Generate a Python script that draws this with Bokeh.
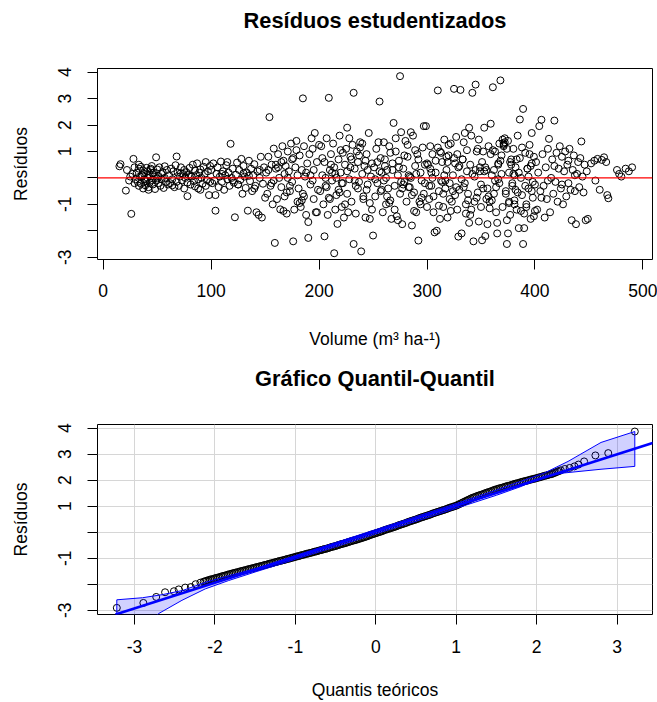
from bokeh.plotting import figure
from bokeh.layouts import column
from bokeh.models import Range1d, FixedTicker, Span, Slope, Title
from bokeh.embed import file_html
from bokeh.resources import INLINE

# ---------------- Resíduos estudentizados (painel superior) ----------------
volume = [
    15, 16, 21, 24, 26, 28, 27, 29, 25, 22, 30, 29,
    31, 32, 33, 33, 34, 35, 35, 36, 37, 37, 38, 38, 39, 40, 40, 41, 41, 42, 43, 43,
    44, 45, 45, 46, 47, 47, 48, 49, 49, 50, 51, 51, 52, 53, 54, 54, 55, 56, 57, 57,
    58, 59, 60, 36, 42, 46, 39, 44, 50, 33,
    61, 62, 63, 64, 65, 66, 67, 68, 68, 69, 70, 71, 72, 73, 74, 75, 75, 76, 77, 78,
    78, 79, 80, 81, 82, 83, 84, 85, 85, 86, 87, 88, 89, 90, 90, 91, 92, 93, 94, 95,
    95, 96, 97, 98, 99, 99, 64, 72, 81, 88,
    100, 101, 102, 103, 104, 105, 106, 107, 108, 109, 110, 111, 112, 113, 114, 115,
    116, 117, 118, 119, 120, 121, 122, 123, 124, 125, 126, 127, 128, 129, 130, 131,
    132, 133, 134, 135, 136, 137, 138, 139, 140, 141, 142, 143, 144, 145, 146, 147,
    148, 149, 150, 110, 115, 125, 135, 140, 145, 104, 120, 130,
    151, 152, 153, 154, 155, 156, 157, 158, 158, 159, 160, 161, 162, 163, 164, 165,
    165, 166, 167, 168, 168, 169, 170, 171, 172, 173, 174, 175, 175, 176, 177, 178,
    179, 180, 180, 181, 182, 183, 184, 185, 185, 186, 187, 188, 189, 190, 190, 191,
    192, 193, 194, 195, 195, 196, 197, 198, 199, 200, 156, 162, 170, 176, 182, 188,
    194, 153, 167, 173, 179, 186, 192, 198, 160, 171, 184,
    201, 202, 203, 204, 205, 205, 206, 207, 208, 209, 210, 210, 211, 212, 213, 214,
    214, 215, 216, 217, 218, 218, 219, 220, 221, 222, 222, 223, 224, 225, 226, 226,
    227, 228, 228, 229, 230, 231, 232, 232, 233, 234, 235, 236, 236, 237, 238, 239,
    240, 240, 241, 242, 243, 244, 245, 246, 247, 248, 249, 250, 203, 207, 212, 216,
    220, 224, 229, 233, 237, 241, 245, 249, 206, 211, 219, 226, 234, 243, 247, 215,
    221, 230, 238, 244, 209,
    251, 252, 253, 254, 255, 256, 257, 258, 259, 260, 260, 261, 262, 263, 264, 265,
    266, 267, 268, 269, 270, 271, 272, 273, 274, 275, 275, 276, 277, 278, 279, 280,
    281, 282, 283, 284, 285, 286, 287, 288, 289, 290, 291, 292, 293, 294, 295, 296,
    297, 298, 299, 300, 254, 258, 262, 266, 270, 274, 278, 282, 286, 290, 294, 298,
    252, 257, 263, 268, 273, 279, 284, 289, 295, 300, 256, 265, 271, 277, 283, 288,
    292, 297, 261, 276, 285,
    301, 302, 303, 304, 305, 306, 307, 308, 309, 310, 311, 312, 313, 314, 315, 316,
    317, 318, 319, 320, 321, 322, 323, 324, 325, 326, 327, 328, 329, 330, 331, 332,
    333, 334, 335, 336, 337, 338, 339, 340, 341, 342, 343, 344, 345, 346, 347, 348,
    349, 350, 351, 303, 306, 310, 314, 318, 322, 326, 330, 334, 338, 342, 346, 350,
    302, 308, 312, 316, 320, 324, 328, 332, 336, 340, 344, 348, 305, 315, 325, 335,
    345, 311, 319, 327, 337, 347, 304, 313, 321, 329, 339, 349, 317, 333, 341,
    351, 352, 353, 354, 355, 356, 357, 358, 359, 360, 361, 362, 363, 364, 365, 365,
    366, 367, 368, 369, 370, 371, 372, 373, 374, 375, 375, 376, 377, 378, 379, 380,
    381, 382, 383, 384, 385, 386, 387, 388, 389, 389, 390, 391, 392, 393, 394, 395,
    396, 397, 398, 399, 400, 353, 357, 361, 364, 368, 372, 376, 380, 384, 388, 392,
    396, 400, 355, 359, 363, 367, 371, 374, 378, 382, 386, 390, 394, 398, 352, 358,
    362, 366, 370, 373, 377, 381, 385, 391, 395, 399, 354, 360, 369, 374, 379, 383,
    387, 393, 397, 371, 356, 366, 376, 381, 397,
    401, 402, 403, 404, 405, 406, 407, 408, 409, 410, 411, 412, 413, 414, 415, 416,
    417, 418, 419, 420, 421, 422, 423, 424, 425, 426, 427, 428, 429, 430, 431, 432,
    433, 434, 435, 436, 437, 438, 439, 440, 441, 442, 443, 444, 445, 446, 447, 448,
    449, 412, 418, 425, 431, 437, 406,
    452, 455, 458, 460, 462, 464, 466, 467, 468, 476, 478, 480, 484, 487, 490, 456,
]

residuo = [
    0.44, 0.52, -0.48, -0.1, -1.36, 0.72, 0.15, -0.2, 0.05, 0.3, -0.05, 0.4,
    0.2, -0.15, 0.35, -0.3, 0.05, 0.42, -0.22, 0.1, -0.4, 0.28,
    -0.05, 0.15, -0.28, 0.38, -0.12, 0.0, 0.25, -0.35, 0.12, -0.18,
    0.3, -0.08, 0.45, -0.25, 0.05, 0.2, -0.42, 0.78, -0.1, 0.32,
    -0.2, 0.08, 0.4, -0.3, 0.15, -0.05, 0.22, -0.38, 0.44, 0.0,
    -0.15, 0.3, -0.25, 0.1, -0.45, 0.18, -0.12, 0.35, -0.02, 0.5,
    0.1, -0.2, 0.35, -0.05, 0.25, -0.35, 0.48, 0.81, -0.15, 0.2,
    -0.3, 0.05, 0.4, -0.1, 0.15, -0.4, 0.3, 0.0, 0.22, -0.69,
    -0.18, 0.12, 0.38, -0.25, 0.05, 0.5, -0.12, 0.28, -0.32, 0.1,
    0.55, -0.05, 0.2, -0.45, 0.32, 0.0, -0.22, 0.42, 0.15, -0.3,
    0.6, -0.08, 0.25, -0.65, -0.15, 0.45, -0.28, 0.18, 0.08, -0.4,
    0.3, -0.2, 0.55, -0.1, -1.24, 0.15, 0.4, -0.35, 0.05, 0.62,
    -0.15, 0.25, -0.45, 0.1, 0.48, -0.05, 0.2, -0.3, 1.29, 0.0,
    0.35, -0.18, -1.49, 0.12, 0.58, -0.25, 0.3, -0.08, 0.72, -0.6,
    0.45, 0.05, -0.38, 0.2, -1.24, 0.65, -0.12, 0.35, -0.5, 0.1,
    0.52, -0.3, -1.3, 0.25, -1.4, 0.0, 0.8, -1.5, -0.22, 0.4,
    -0.75, 0.15, 0.6, -0.25, 0.08, -0.4, 0.3, -0.65, -0.1, 0.18,
    0.2, -0.6, 0.8, 2.30, -0.3, 0.5, -1.0, 1.11, -0.1, -2.46,
    0.35, -0.8, 0.9, 0.0, -1.19, 0.6, -0.35, 1.2, -1.25, 0.15,
    -0.7, 0.45, -1.35, 1.0, 0.25, -0.5, 1.3, -0.15, 0.7, -2.40,
    -1.2, 0.4, 1.4, -0.9, 0.1, -0.4, 0.85, -1.1, 0.3, 3.01,
    -0.6, 1.2, 0.05, -1.4, 0.55, -2.27, -1.67, 0.9, -0.25, 1.5,
    1.1, -0.8, 0.3, 1.7, -1.3, 0.6, -0.45, 1.25, -0.2, 0.4,
    -0.55, 0.75, -0.95, 0.2, -0.1, 0.3, 0.65, -0.3, 1.05, -0.7,
    0.1, -1.3, 0.5, 0.0, -0.85,
    -0.5, 1.2, 0.1, -1.0, -2.21, 0.6, -0.3, 1.5, -1.4, 3.03,
    0.3, -0.8, 0.9, -0.1, 1.3, -2.85, 0.4, -1.2, 0.0, -1.74,
    0.7, -0.45, 1.6, 0.2, -1.1, 0.95, -0.2, -1.5, 0.5, 1.1,
    -0.6, 0.25, -1.3, 1.5, -0.05, 0.8, -0.9, 1.25, 3.22, -2.5,
    0.35, -1.35, 1.0, -0.4, 0.6, -0.15, 1.35, -2.78, 0.15, 1.3,
    -0.7, 0.45, -1.5, 0.9, -0.25, 1.7, -1.55, 0.05, 0.55, -2.18,
    0.75, -0.35, 0.2, -0.65, 1.05, -1.0, 0.4, -0.1, 0.85, -0.8,
    0.3, -1.2, 0.0, 0.5, -0.55, 1.9, -0.3, 0.65, -0.95, 0.15,
    -0.2, 0.7, 1.15, -0.45, -0.75,
    0.4, -0.7, 1.1, -0.2, 1.35, 2.89, -0.5, 0.2, -1.3, 1.35,
    -0.1, 0.7, -1.0, 0.3, -0.4, 1.2, -0.85, -1.55, 0.55, 2.08,
    -0.3, 1.0, -1.45, 0.1, 0.65, 3.85, -0.6, 1.73, -1.75, 0.35,
    -0.15, 1.4, -0.9, 0.8, -0.35, 0.05, 1.73, -1.8, 1.6, -0.55,
    0.45, -1.3, 0.9, -2.37, -0.9, 0.2, -0.75, 1.15, 1.96, -0.2,
    1.96, -1.1, 0.6, -0.45, 0.0, 0.95, -1.2, 0.4, -0.25, 1.25,
    -0.65, 0.15, -1.0, 0.5, -0.05, 0.75, -0.7, 0.3, -1.6, 0.85,
    -0.35, 1.05, -0.1, 0.55, 0.25, -0.95, 1.5, -0.4, 0.1, -1.25,
    0.7, -0.6, 0.45, -0.15, 0.0,
    0.5, -0.8, 1.2, -0.3, 0.9, -1.3, -2.06, 0.2, -2.0, 3.31,
    -0.5, 1.0, -0.1, 0.6, -1.1, 1.45, -0.4, 0.3, -1.5, 0.85,
    -0.2, 1.3, -0.9, 0.1, 3.37, -0.65, 1.55, -1.2, -2.22, 0.45,
    3.33, -2.1, 0.7, -0.35, 1.7, -1.0, 0.25, -0.6, 1.9, -1.4,
    1.6, 3.22, -2.4, 0.05, 3.53, -0.75, 1.1, -1.65, 0.4, -0.25,
    -2.36, 0.35, -0.7, 1.15, -0.15, 0.8, -1.25, 0.55, -0.45, 1.35,
    -0.85, 0.15, 1.0, -1.1, -0.3, 0.65, -1.55, 0.1, 1.25, -0.5,
    0.9, -0.05, -1.35, 0.5, -0.9, 1.45, 0.0, -0.6, 0.75, -0.2,
    0.3, -1.05, 0.6, -0.35, 1.05, -0.55, 0.2, 0.95, -0.8, 0.4,
    -1.7, 0.25, -0.1, 0.7, -1.2,
    0.6, -0.4, 1.9, -2.2, 0.3, -1.75, 1.2, -0.9, 2.05, 0.1,
    3.43, -0.6, 1.0, -1.3, -1.7, -2.1, 0.5, -0.2, 3.69, 0.85,
    -1.1, 1.3, 1.5, -0.5, -2.5, -2.1, 1.4, 0.2, -1.4, 0.7,
    -0.3, 1.1, -0.85, 0.4, -1.2, 1.6, -1.9, 2.21, 0.0, -0.65,
    2.61, -2.5, -1.9, 0.95, -1.0, 0.35, -0.4, 1.25, -1.55, 0.55,
    -0.15, 0.8, -1.25, 0.25, -0.7, 1.05, -0.35, 0.65, 1.35, -0.95,
    0.15, -0.55, 1.15, -1.1, 0.45, -0.25, -0.8, 0.9, -0.1, 1.3,
    1.2, -1.6, 0.5, -0.45, 0.75, -1.35, 0.05, -0.75, 1.0, -1.15,
    0.3, -0.05, 1.45, -0.6, 0.6, -1.0, 0.2, -0.3, 0.9, -1.45,
    0.4, -0.85, 0.15, 1.1, -0.2, 0.7, -1.25, 0.35, -0.5, 1.25,
    -0.4, 0.55, -0.9, 0.1, 1.7,
    0.6, -1.2, 0.2, 1.96, -0.5, 2.2, 0.9, -0.3, -1.5, 0.4,
    -0.8, 1.1, 1.48, -1.3, 0.0, 0.7, -0.6, 2.17, -0.15, 0.95,
    -0.9, 0.35, 1.2, -0.4, 0.8, -1.0, 0.25, 1.0, -0.7, 0.5,
    -0.2, 1.1, -0.45, -1.6, 0.3, 0.85, -0.5, -1.75, 0.15, 0.6,
    -0.35, 0.75, 1.38, 0.05, -0.55, 0.5, -1.6, 0.25, -1.55, -0.1,
    0.45, -0.25, 0.65, 0.1, -0.75,
    0.55, 0.65, 0.72, -0.45, 0.68, 0.78, 0.6, -0.65, -0.77, 0.3, 0.15, 0.05, 0.35, 0.25, 0.4, -0.1,
]

ticks_volume = [0, 100, 200, 300, 400, 500]
ticks_residuo = [-3, -2, -1, 0, 1, 2, 3, 4]
rotulos_residuo = {-3: "-3", -2: "", -1: "-1", 0: "", 1: "1", 2: "2", 3: "3", 4: "4"}

# ---------------- Gráfico Quantil-Quantil (painel inferior) ----------------
qq_teorico = [
    -3.22, -2.89, -2.73, -2.62, -2.51, -2.45, -2.37, -2.30, -2.24, -2.18,
    -2.14, -2.12, -2.10, -2.08, -2.06, -2.04, -2.02, -2.00, -1.98, -1.96, -1.94, -1.92,
    -1.90, -1.88, -1.86, -1.84, -1.82, -1.80,
    -1.78, -1.76, -1.74, -1.72, -1.70, -1.68, -1.66, -1.64, -1.62, -1.60,
    -1.58, -1.56, -1.54, -1.52, -1.50, -1.48, -1.46, -1.44, -1.42, -1.40,
    -1.38, -1.36, -1.34, -1.32, -1.30, -1.28, -1.26, -1.24, -1.22, -1.20,
    -1.18, -1.16, -1.14, -1.12, -1.10, -1.08, -1.06, -1.04, -1.02, -1.00,
    -0.98, -0.96, -0.94, -0.92, -0.90, -0.88, -0.86, -0.84, -0.82, -0.80,
    -0.78, -0.76, -0.74, -0.72, -0.70, -0.68, -0.66, -0.64, -0.62, -0.60,
    -0.58, -0.56, -0.54, -0.52, -0.50, -0.48, -0.46, -0.44, -0.42, -0.40,
    -0.38, -0.36, -0.34, -0.32, -0.30, -0.28, -0.26, -0.24, -0.22, -0.20,
    -0.18, -0.16, -0.14, -0.12, -0.10, -0.08, -0.06, -0.04, -0.02, 0.00,
    0.02, 0.04, 0.06, 0.08, 0.10, 0.12, 0.14, 0.16, 0.18, 0.20,
    0.22, 0.24, 0.26, 0.28, 0.30, 0.32, 0.34, 0.36, 0.38, 0.40,
    0.42, 0.44, 0.46, 0.48, 0.50, 0.52, 0.54, 0.56, 0.58, 0.60,
    0.62, 0.64, 0.66, 0.68, 0.70, 0.72, 0.74, 0.76, 0.78, 0.80,
    0.82, 0.84, 0.86, 0.88, 0.90, 0.92, 0.94, 0.96, 0.98, 1.00,
    1.02, 1.04, 1.06, 1.08, 1.10, 1.12, 1.14, 1.16, 1.18, 1.20,
    1.22, 1.24, 1.26, 1.28, 1.30, 1.32, 1.34, 1.36, 1.38, 1.40, 1.42, 1.44, 1.46, 1.48, 1.50,
    1.52, 1.54, 1.56, 1.58, 1.60, 1.62, 1.64, 1.66, 1.68, 1.70, 1.72, 1.74, 1.76, 1.78, 1.80,
    1.82, 1.84, 1.86, 1.88, 1.90, 1.92, 1.94, 1.96, 1.98, 2.00,
    2.02, 2.04, 2.06, 2.08, 2.10, 2.12, 2.14, 2.16, 2.18, 2.20, 2.22, 2.24, 2.26, 2.28, 2.30,
    2.35, 2.41, 2.47, 2.52, 2.59, 2.73, 2.89, 3.22,
]

qq_residuo = [
    -2.91, -2.72, -2.49, -2.31, -2.27, -2.20, -2.13, -2.11, -2.00, -1.94,
    -1.90, -1.89, -1.86, -1.85, -1.82, -1.81, -1.80, -1.77, -1.76, -1.74, -1.73, -1.70,
    -1.69, -1.67, -1.66, -1.63, -1.62, -1.60,
    -1.58, -1.57, -1.55, -1.54, -1.52, -1.50, -1.49, -1.47, -1.46, -1.44,
    -1.42, -1.41, -1.39, -1.38, -1.36, -1.34, -1.33, -1.31, -1.30, -1.28,
    -1.26, -1.25, -1.23, -1.21, -1.20, -1.18, -1.16, -1.15, -1.13, -1.11,
    -1.10, -1.08, -1.07, -1.05, -1.03, -1.02, -1.00, -0.98, -0.97, -0.95,
    -0.93, -0.92, -0.90, -0.88, -0.87, -0.85, -0.83, -0.82, -0.80, -0.79,
    -0.77, -0.75, -0.74, -0.72, -0.70, -0.69, -0.67, -0.65, -0.64, -0.62,
    -0.60, -0.58, -0.56, -0.55, -0.53, -0.51, -0.49, -0.47, -0.45, -0.44,
    -0.42, -0.40, -0.38, -0.36, -0.34, -0.32, -0.31, -0.29, -0.27, -0.25,
    -0.23, -0.21, -0.19, -0.17, -0.15, -0.12, -0.10, -0.08, -0.06, -0.04,
    -0.02, 0.00, 0.02, 0.04, 0.07, 0.09, 0.11, 0.13, 0.15, 0.17,
    0.19, 0.21, 0.23, 0.26, 0.28, 0.30, 0.32, 0.34, 0.36, 0.39,
    0.41, 0.43, 0.45, 0.47, 0.49, 0.51, 0.54, 0.56, 0.58, 0.60,
    0.62, 0.64, 0.66, 0.68, 0.71, 0.73, 0.75, 0.77, 0.79, 0.81,
    0.83, 0.85, 0.87, 0.89, 0.92, 0.94, 0.96, 0.98, 1.00, 1.02,
    1.05, 1.08, 1.11, 1.14, 1.17, 1.20, 1.23, 1.26, 1.29, 1.32,
    1.34, 1.36, 1.39, 1.41, 1.43, 1.45, 1.47, 1.50, 1.52, 1.54, 1.56, 1.58, 1.61, 1.63, 1.65,
    1.67, 1.69, 1.70, 1.72, 1.74, 1.76, 1.78, 1.79, 1.81, 1.83, 1.85, 1.87, 1.88, 1.90, 1.92,
    1.94, 1.95, 1.97, 1.98, 2.00, 2.02, 2.03, 2.05, 2.06, 2.08,
    2.10, 2.11, 2.13, 2.15, 2.17, 2.18, 2.20, 2.22, 2.23, 2.25, 2.28, 2.30, 2.33, 2.35, 2.38,
    2.43, 2.47, 2.53, 2.60, 2.72, 2.95, 3.04, 3.87,
]

# envelope (banda de confiança)
env_x_sup = [-3.22, -2.90, -2.65, -2.40, -2.11, -1.82, -1.50, -1.00, -0.50, 0.00,
             0.50, 1.00, 1.50, 1.80, 2.10, 2.39, 2.80, 3.22]
env_y_sup = [-2.60, -2.52, -2.40, -2.24, -1.92, -1.67, -1.40, -0.90, -0.40, 0.10,
             0.60, 1.10, 1.62, 1.95, 2.28, 2.72, 3.45, 3.87]
env_x_inf = [-3.22, -2.85, -2.70, -2.41, -2.12, -1.83, -1.50, -1.25, -1.00, -0.50,
             0.00, 0.50, 1.00, 1.50, 1.80, 2.10, 2.35, 2.80, 3.22]
env_y_inf = [-4.30, -3.55, -3.13, -2.62, -2.18, -1.86, -1.53, -1.29, -1.04, -0.56,
             -0.06, 0.42, 0.92, 1.42, 1.75, 2.15, 2.28, 2.42, 2.53]

reta_intercepto = 0.03
reta_inclinacao = 0.987

ticks_teorico = [-3, -2, -1, 0, 1, 2, 3]

FONTE = "Liberation Sans"
TAM = "17.5px"


def estilo(p, xticks, yticks, titulo, espaco):
    p.background_fill_color = "white"
    p.border_fill_color = "white"
    p.outline_line_color = "black"
    p.outline_line_width = 1
    p.outline_line_alpha = 1
    p.xaxis.ticker = FixedTicker(ticks=xticks)
    p.yaxis.ticker = FixedTicker(ticks=yticks)
    p.xaxis.major_label_overrides = {t: str(t) for t in xticks}
    p.yaxis.major_label_overrides = rotulos_residuo
    p.yaxis.major_label_orientation = "vertical"
    for ax in (p.xaxis[0], p.yaxis[0]):
        ax.axis_line_color = None
        ax.major_tick_out = 10
        ax.major_tick_in = 0
        ax.major_tick_line_color = "black"
        ax.major_tick_line_width = 1
        ax.minor_tick_line_color = None
        ax.major_label_text_font = FONTE
        ax.major_label_text_font_size = TAM
        ax.major_label_text_color = "black"
        ax.axis_label_text_font = FONTE
        ax.axis_label_text_font_size = TAM
        ax.axis_label_text_font_style = "normal"
        ax.axis_label_text_color = "black"
    p.yaxis.major_label_standoff = 16
    p.yaxis.axis_label_standoff = 25
    p.yaxis.axis_label = "Resíduos"
    # espaço entre o quadro e o título (primeiro item "above" fica junto ao quadro)
    p.add_layout(Title(text=" ", text_font_size="1px", standoff=espaco), "above")
    p.add_layout(Title(text=titulo, text_font=FONTE, text_font_size="21.8px",
                       text_font_style="bold", text_color="black", align="center"), "above")


# ---- painel superior
n = min(len(volume), len(residuo))
p1 = figure(width=657, height=357, output_backend="svg", toolbar_location=None,
            x_range=Range1d(-5.3, 508.9), y_range=Range1d(-3.087, 4.14),
            min_border_left=97, min_border_right=5, min_border_top=68, min_border_bottom=98)
estilo(p1, ticks_volume, ticks_residuo, "Resíduos estudentizados", 28)
p1.grid.visible = False
p1.xaxis.axis_label = "Volume (m³ ha-¹)"
p1.xaxis.major_label_standoff = 14
p1.xaxis.axis_label_standoff = 29
p1.scatter(volume[:n], residuo[:n], marker="circle", size=7, fill_color=None,
           line_color="black", line_width=1)
p1.add_layout(Span(location=0, dimension="width", line_color="red", line_width=1.4))

# ---- painel inferior
m = min(len(qq_teorico), len(qq_residuo))
p2 = figure(width=657, height=345, output_backend="svg", toolbar_location=None,
            x_range=Range1d(-3.46, 3.44), y_range=Range1d(-3.165, 4.14),
            min_border_left=97, min_border_right=5, min_border_top=67, min_border_bottom=87)
estilo(p2, ticks_teorico, ticks_residuo, "Gráfico Quantil-Quantil", 26)
p2.xgrid.ticker = FixedTicker(ticks=ticks_teorico)
p2.ygrid.ticker = FixedTicker(ticks=ticks_residuo)
p2.grid.grid_line_color = "#d6d6d6"
p2.grid.grid_line_width = 1
p2.xaxis.axis_label = "Quantis teóricos"
p2.xaxis.major_label_standoff = 15
p2.xaxis.axis_label_standoff = 24
p2.scatter(qq_teorico[:m], qq_residuo[:m], marker="circle", size=7, fill_color=None,
           line_color="black", line_width=1)
px = env_x_sup + env_x_inf[::-1]
py = env_y_sup + env_y_inf[::-1]
p2.patch(px, py, fill_color="blue", fill_alpha=0.18, line_color="blue", line_width=1)
p2.add_layout(Slope(gradient=reta_inclinacao, y_intercept=reta_intercepto,
                    line_color="blue", line_width=2.6))

layout = column(p1, p2, spacing=0)
open("out.html", "w").write(file_html(layout, INLINE))
